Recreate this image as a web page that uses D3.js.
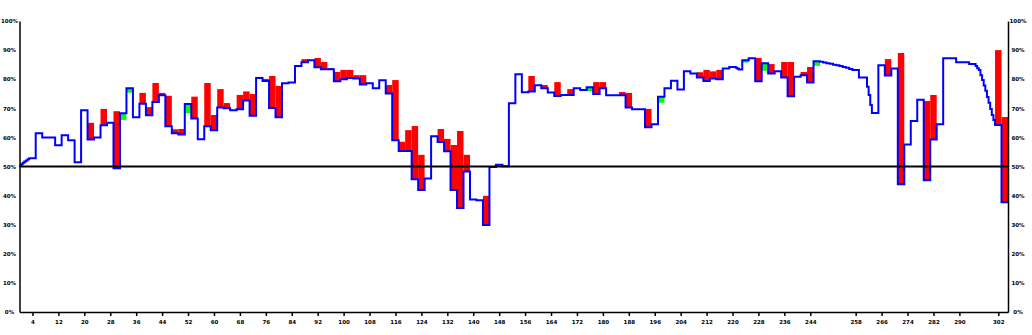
<!DOCTYPE html>
<html>
<head>
<meta charset="utf-8">
<script src="https://cdn.jsdelivr.net/npm/d3@7"></script>
<style>
  html, body { margin: 0; padding: 0; background: #fff; }
  svg { display: block; }
  .axis text { font-family: "DejaVu Sans", sans-serif; font-size: 5.5px; font-weight: bold; fill: #000; }
</style>
</head>
<body>
<svg width="1032" height="335"></svg>
<script>
// x tick labels (the axis skips a few values after 244)
const xTicks = [4, 12, 20, 28, 36, 44, 52, 60, 68, 76, 84, 92, 100, 108, 116, 124, 132, 140,
  148, 156, 164, 172, 180, 188, 196, 204, 212, 220, 228, 236, 244, 258, 266, 274, 282, 290, 302];
const yTicks = [0, 10, 20, 30, 40, 50, 60, 70, 80, 90, 100];

// step line: position where each level starts, and the level (%)
const lineX = [0, 0.5, 1, 1.5, 2, 2.5, 3, 5, 7, 11, 13, 15, 17, 19, 21, 23, 25, 27, 29, 31, 33, 35, 37, 39,
  41, 43, 45, 47, 49, 51, 53, 55, 57, 59, 61, 63, 65, 67, 69, 71, 73, 75, 77, 79, 81, 83, 85, 87, 89,
  91, 93, 97, 99, 101, 103, 105, 107, 109, 111, 113, 115, 117, 121, 123, 125, 127, 129, 131, 133, 135,
  137, 139, 141, 143, 145, 147, 149, 151, 153, 155, 157, 159, 161, 163, 165, 167, 171, 173, 175, 177,
  179, 181, 187, 189, 193, 195, 197, 199, 201, 203, 205, 207, 209, 211, 213, 215, 217, 219, 221, 221.5,
  222, 223, 225, 227, 229, 231, 233, 235, 237, 239, 241, 243, 245, 247, 248, 249, 250, 251, 252, 253,
  254, 255, 256, 257, 259, 261.5, 262, 262.5, 263, 265, 267, 269, 271, 273, 275, 277, 279, 281, 283,
  285, 289, 293, 295, 295.5, 296, 296.5, 297, 297.5, 298, 298.5, 299, 299.5, 300, 300.5, 301, 303];
const lineY = [50.3, 50.8, 51.3, 51.7, 52.1, 52.5, 52.8, 61.4, 60.0, 57.3, 60.7, 59.0, 51.5, 69.3, 59.3,
  60.0, 64.2, 65.0, 49.4, 68.3, 76.9, 66.9, 71.6, 67.6, 72.2, 74.5, 63.8, 61.4, 61.0, 71.5, 66.5, 59.4,
  63.8, 62.5, 70.3, 70.0, 69.3, 69.7, 72.7, 67.4, 80.4, 79.4, 70.1, 66.9, 78.6, 78.9, 84.5, 85.8, 86.5,
  84.1, 83.4, 79.3, 80.0, 80.4, 80.2, 78.2, 78.6, 76.9, 79.6, 75.1, 59.0, 55.3, 45.6, 41.9, 45.9, 60.4,
  58.4, 55.2, 41.9, 35.7, 48.3, 38.7, 38.4, 29.9, 49.8, 50.6, 50.1, 71.7, 81.7, 75.5, 75.8, 77.9, 76.9,
  75.4, 74.2, 74.6, 76.9, 76.3, 77.2, 74.9, 76.9, 74.5, 70.3, 69.7, 63.5, 64.5, 74.0, 76.9, 79.5, 76.5,
  82.7, 82.0, 80.6, 79.4, 80.2, 80.0, 83.7, 84.2, 83.9, 83.6, 83.3, 86.5, 87.2, 79.3, 85.5, 82.0, 82.7,
  80.6, 74.1, 80.8, 81.4, 78.9, 86.2, 86.0, 85.7, 85.5, 85.3, 85.0, 84.8, 84.5, 84.2, 83.9, 83.5, 83.2,
  80.6, 77.4, 74.6, 71.1, 68.4, 84.8, 81.3, 83.7, 43.9, 57.6, 65.6, 72.9, 45.3, 59.3, 64.5, 87.2, 85.8,
  85.2, 84.5, 83.8, 83.2, 81.4, 79.7, 77.8, 76.0, 73.9, 71.9, 69.8, 67.7, 66.0, 64.3, 37.7];
const lineEnd = 305;

// bars: start position (each 2 wide) and the second value; the line gives the other end
const barX = [21, 25, 29, 31, 33, 37, 39, 41, 43, 45, 47, 49, 51, 53, 57, 59, 61, 63, 67, 69, 71, 73, 75,
  77, 79, 87, 91, 93, 95, 97, 99, 101, 103, 105, 113, 115, 117, 119, 121, 123, 129, 131, 133, 135, 137,
  143, 157, 161, 165, 169, 175, 177, 179, 185, 187, 193, 197, 209, 211, 213, 215, 223, 227, 229, 231,
  235, 237, 241, 243, 245, 267, 271, 279, 281, 301, 303];
const barY = [65.0, 69.8, 69.0, 66.0, 75.4, 75.3, 70.4, 78.7, 75.3, 74.3, 62.8, 62.9, 68.3, 74.0, 78.7,
  67.7, 76.6, 71.8, 74.6, 75.8, 74.9, 80.8, 80.1, 81.1, 77.7, 86.9, 87.3, 85.9, 83.8, 82.5, 83.2, 83.2,
  81.4, 81.4, 78.0, 79.7, 58.5, 62.5, 63.9, 54.0, 62.9, 59.5, 57.4, 62.2, 54.0, 39.9, 81.1, 78.0, 79.0,
  76.6, 75.9, 79.0, 79.0, 75.6, 75.3, 69.8, 71.9, 82.4, 83.2, 82.7, 83.2, 85.7, 87.3, 82.9, 85.2, 85.9,
  85.9, 82.5, 84.2, 84.6, 86.9, 89.0, 72.5, 74.6, 90.0, 67.0];
const barWidth = 2;

class StepChart {
    constructor() {
        this.svg = d3.select('svg');
        this.left = 19.5;   // left axis
        this.right = 1008;  // right axis
        this.top = 21;      // 100%
        this.bottom = 312;  // 0%
    }

    draw = () => {
        this.setScales();
        this.drawBars();
        this.drawLine();
        this.drawMidLine();
        this.drawAxes();
    }

    setScales = () => {
        this.x = d3.scaleLinear().domain([0, lineEnd]).range([this.left, this.right]);
        this.y = d3.scaleLinear().domain([0, 100]).range([this.bottom, this.top]);
    }

    // level of the step line at position u
    levelAt = (u) => lineY[d3.bisectRight(lineX, u) - 1]

    drawBars = () => {
        const bars = barX.map((u, i) => ({ u, a: this.levelAt(u), b: barY[i] }));
        this.svg.append('g')
            .selectAll('rect')
            .data(bars)
            .join('rect')
            .attr('x', d => this.x(d.u))
            .attr('width', d => this.x(d.u + barWidth) - this.x(d.u))
            .attr('y', d => this.y(Math.max(d.a, d.b)))
            .attr('height', d => Math.abs(this.y(d.a) - this.y(d.b)))
            .attr('fill', d => d.b > d.a ? '#ff0000' : '#00ff00');
    }

    drawLine = () => {
        const pts = lineX.map((u, i) => [u, lineY[i]]);
        pts.push([lineEnd, lineY[lineY.length - 1]]);
        const line = d3.line()
            .x(d => this.x(d[0]))
            .y(d => this.y(d[1]))
            .curve(d3.curveStepAfter);
        this.svg.append('path')
            .datum(pts)
            .attr('d', line)
            .attr('fill', 'none')
            .attr('stroke', '#0000ff')
            .attr('stroke-width', 2);
    }

    drawMidLine = () => {
        this.svg.append('line')
            .attr('x1', this.left).attr('x2', this.right)
            .attr('y1', this.y(50)).attr('y2', this.y(50))
            .attr('stroke', '#000')
            .attr('stroke-width', 1.8);
    }

    drawAxes = () => {
        const fmt = d => d + '%';

        this.svg.append('g')
            .attr('class', 'axis')
            .attr('transform', `translate(0,${this.bottom})`)
            .call(d3.axisBottom(this.x).tickValues(xTicks).tickSize(4).tickSizeOuter(0).tickPadding(4));

        const yLeft = this.svg.append('g')
            .attr('class', 'axis')
            .attr('transform', `translate(${this.left},0)`)
            .call(d3.axisLeft(this.y).tickValues(yTicks).tickFormat(fmt).tickSize(0).tickSizeOuter(0));
        yLeft.selectAll('text').attr('x', -10).attr('text-anchor', 'middle');

        const yRight = this.svg.append('g')
            .attr('class', 'axis')
            .attr('transform', `translate(${this.right},0)`)
            .call(d3.axisRight(this.y).tickValues(yTicks).tickFormat(fmt).tickSize(0).tickSizeOuter(0));
        yRight.selectAll('text').attr('x', 10).attr('text-anchor', 'middle');

        this.svg.selectAll('.axis .domain, .axis .tick line')
            .attr('stroke', '#000')
            .attr('stroke-width', 1.5);
    }
}

new StepChart().draw();
</script>
</body>
</html>
